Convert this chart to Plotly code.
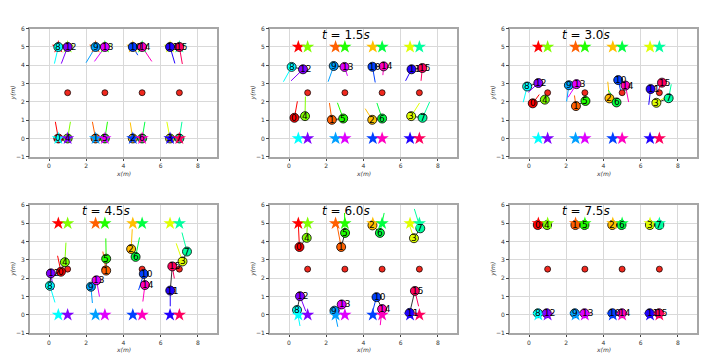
import colorsys
import plotly.graph_objects as go

# ---------------- data ----------------
TIME_LABELS = ["", "1.5", "3.0", "4.5", "6.0", "7.5"]
ROBOT_IDS = list(range(16))
OBST_X = [1.0, 3.0, 5.0, 7.0]
OBST_Y = [2.5, 2.5, 2.5, 2.5]
GOAL_X = [0.5, 2.5, 4.5, 6.5, 1.0, 3.0, 5.0, 7.0, 0.5, 2.5, 4.5, 6.5, 1.0, 3.0, 5.0, 7.0]
GOAL_Y = [5, 5, 5, 5, 5, 5, 5, 5, 0, 0, 0, 0, 0, 0, 0, 0]
PAIR_A = [0, 1, 2, 3, 8, 9, 10, 11]
PAIR_B = [4, 5, 6, 7, 12, 13, 14, 15]

# robot positions per panel (index = robot id)
x_t00 = [0.5, 2.5, 4.5, 6.5, 1.0, 3.0, 5.0, 7.0, 0.5, 2.5, 4.5, 6.5, 1.0, 3.0, 5.0, 7.0]
y_t00 = [0, 0, 0, 0, 0, 0, 0, 0, 5, 5, 5, 5, 5, 5, 5, 5]
ex_t00 = [0.34, 2.33, 4.36, 6.33, 1.15, 3.14, 5.15, 7.14, 0.29, 1.99, 4.77, 6.76, 0.66, 2.44, 5.52, 7.16]
ey_t00 = [0.91, 0.91, 0.88, 0.91, 0.91, 0.91, 0.91, 0.91, 4.09, 4.14, 4.55, 4.10, 4.09, 4.21, 4.21, 4.07]

x_t15 = [0.29, 2.30, 4.47, 6.56, 0.86, 2.91, 5.00, 7.17, 0.14, 2.40, 4.48, 6.58, 0.75, 2.98, 5.08, 7.16]
y_t15 = [1.13, 1.02, 1.02, 1.22, 1.22, 1.09, 1.09, 1.13, 3.91, 3.96, 3.92, 3.78, 3.78, 3.91, 3.94, 3.85]
ex_t15 = [0.45, 2.17, 4.09, 7.01, 0.88, 2.60, 4.72, 7.55, -0.30, 2.10, 4.63, 6.26, 0.11, 3.14, 5.04, 7.09]
ey_t15 = [2.03, 1.94, 1.63, 1.94, 2.29, 1.95, 1.94, 1.99, 3.10, 3.10, 3.06, 3.15, 3.15, 3.42, 3.46, 3.15]

x_t30 = [0.20, 2.52, 4.32, 6.84, 0.85, 3.03, 4.70, 7.50, -0.10, 2.14, 4.79, 6.53, 0.50, 2.55, 5.18, 7.14]
y_t30 = [1.92, 1.77, 2.19, 1.95, 2.12, 2.05, 1.97, 2.20, 2.84, 2.91, 3.19, 2.70, 3.03, 2.97, 2.89, 3.05]
ex_t30 = [0.55, 2.44, 4.23, 7.46, 0.94, 3.01, 4.25, 7.64, -0.31, 2.02, 4.93, 6.43, -0.04, 2.10, 5.35, 6.95]
ey_t30 = [2.40, 2.35, 3.10, 2.34, 2.50, 2.53, 2.65, 2.96, 1.98, 2.02, 2.56, 1.84, 2.52, 2.25, 1.99, 2.65]

x_t45 = [0.64, 3.07, 4.41, 7.17, 0.85, 3.07, 4.65, 7.41, 0.05, 2.25, 5.09, 6.51, 0.10, 2.55, 5.15, 6.62]
y_t45 = [2.36, 2.42, 3.60, 2.92, 2.88, 3.07, 3.17, 3.46, 1.59, 1.54, 2.24, 1.33, 2.27, 1.89, 1.63, 2.65]
ex_t45 = [0.46, 2.89, 4.47, 6.83, 0.91, 3.05, 4.86, 7.14, 0.32, 2.33, 4.81, 6.51, 0.23, 2.71, 5.04, 6.73]
ey_t45 = [3.23, 3.46, 4.68, 3.91, 3.95, 4.18, 4.23, 4.50, 0.68, 0.65, 1.36, 0.47, 1.36, 1.00, 0.73, 1.99]

x_t60 = [0.56, 2.80, 4.48, 6.71, 0.95, 3.01, 4.88, 7.05, 0.43, 2.44, 4.70, 6.48, 0.59, 2.83, 5.00, 6.76]
y_t60 = [3.71, 3.71, 4.89, 4.19, 4.21, 4.48, 4.48, 4.73, 0.27, 0.23, 0.97, 0.11, 1.02, 0.57, 0.32, 1.31]
ex_t60 = [0.50, 2.57, 4.50, 6.39, 1.00, 2.98, 5.11, 6.73, 0.59, 2.62, 4.47, 6.52, 0.90, 2.57, 4.90, 6.96]
ey_t60 = [4.95, 4.95, 5.00, 5.13, 5.30, 5.57, 5.57, 5.79, -0.61, -0.65, 0.11, 0.20, 0.20, -0.16, -0.56, 0.47]

x_t75 = [0.47, 2.49, 4.47, 6.49, 0.97, 2.98, 4.97, 7.00, 0.48, 2.46, 4.48, 6.48, 0.95, 2.98, 4.99, 6.98]
y_t75 = [4.91, 4.91, 4.91, 4.91, 4.91, 4.91, 4.91, 4.91, 0.09, 0.09, 0.09, 0.09, 0.09, 0.09, 0.09, 0.09]
ex_t75 = [0.49, 2.50, 4.49, 6.50, 0.99, 3.00, 4.99, 7.00, 0.49, 2.48, 4.49, 6.49, 0.97, 2.99, 5.00, 6.99]
ey_t75 = [5.12, 5.12, 5.12, 5.12, 5.12, 5.12, 5.12, 5.12, -0.08, -0.08, -0.08, -0.08, -0.08, -0.08, -0.08, -0.08]

PANELS = [
    (x_t00, y_t00, ex_t00, ey_t00),
    (x_t15, y_t15, ex_t15, ey_t15),
    (x_t30, y_t30, ex_t30, ey_t30),
    (x_t45, y_t45, ex_t45, ey_t45),
    (x_t60, y_t60, ex_t60, ey_t60),
    (x_t75, y_t75, ex_t75, ey_t75),
]

# ---------------- style ----------------
OFF = 8  # default page body margin
W, H = 720 - OFF, 360 - OFF
FONT = "DejaVu Sans"


def robot_color(i):
    r, g, b = colorsys.hsv_to_rgb(i / 16.0, 1.0, 1.0)
    return "rgb(%d,%d,%d)" % (round(r * 255), round(g * 255), round(b * 255))


COLORS = [robot_color(i) for i in ROBOT_IDS]

fig = go.Figure()
annotations = []
layout_axes = {}

for k, (xs, ys, exs, eys) in enumerate(PANELS):
    row, col = divmod(k, 3)
    left = 30.4 + 240 * col - OFF
    right = 216.6 + 240 * col - OFF
    top = 25 + 180 * row - OFF
    bottom = 155.7 + 180 * row - OFF
    sfx = "" if k == 0 else str(k + 1)
    xa, ya = "x" + sfx, "y" + sfx

    common = dict(
        showgrid=True, gridcolor="#d9d9d9", gridwidth=1.2,
        zeroline=False, showline=True, linecolor="#a6a6a6", linewidth=1.5,
        mirror=True, ticks="outside", ticklen=2.5, tickwidth=0.8, tickcolor="#444",
        tickfont=dict(family=FONT, size=6, color="#333"),
    )
    layout_axes["xaxis" + sfx] = dict(
        common, domain=[left / W, right / W], range=[-1, 9],
        tickvals=[0, 2, 4, 6, 8], anchor=ya,
    )
    layout_axes["yaxis" + sfx] = dict(
        common, domain=[1 - bottom / H, 1 - top / H], range=[-1, 6],
        tickvals=[-1, 0, 1, 2, 3, 4, 5, 6], anchor=xa,
    )

    # pair connection lines
    for a, b in zip(PAIR_A, PAIR_B):
        fig.add_trace(go.Scatter(
            x=[xs[a], xs[b]], y=[ys[a], ys[b]], mode="lines",
            line=dict(color="black", width=0.8), xaxis=xa, yaxis=ya,
            showlegend=False, hoverinfo="skip"))
    # velocity lines
    for i in ROBOT_IDS:
        fig.add_trace(go.Scatter(
            x=[xs[i], exs[i]], y=[ys[i], eys[i]], mode="lines",
            line=dict(color=COLORS[i], width=1.0), xaxis=xa, yaxis=ya,
            showlegend=False, hoverinfo="skip"))
    # obstacles
    fig.add_trace(go.Scatter(
        x=OBST_X, y=OBST_Y, mode="markers",
        marker=dict(size=6, color="rgb(240,40,30)", line=dict(color="black", width=0.7)),
        xaxis=xa, yaxis=ya, showlegend=False, hoverinfo="skip"))
    # robots and goals, in two groups
    for grp in (ROBOT_IDS[:8], ROBOT_IDS[8:]):
        fig.add_trace(go.Scatter(
            x=[xs[i] for i in grp], y=[ys[i] for i in grp], mode="markers",
            marker=dict(size=9, color=[COLORS[i] for i in grp],
                        line=dict(color="black", width=0.8)),
            xaxis=xa, yaxis=ya, showlegend=False, hoverinfo="skip"))
        fig.add_trace(go.Scatter(
            x=[GOAL_X[i] for i in grp], y=[GOAL_Y[i] for i in grp], mode="markers",
            marker=dict(size=10, symbol="star", color=[COLORS[i] for i in grp],
                        line=dict(width=0)),
            xaxis=xa, yaxis=ya, showlegend=False, hoverinfo="skip"))
    # labels
    for i in ROBOT_IDS:
        annotations.append(dict(
            x=xs[i], y=ys[i], xref=xa, yref=ya, text=str(i), showarrow=False,
            xanchor="left", yanchor="middle", xshift=-4, borderpad=0,
            font=dict(family=FONT, size=9, color="black")))
    # title
    if TIME_LABELS[k]:
        annotations.append(dict(
            x=3.05, y=5.66, xref=xa, yref=ya,
            text="<i>t</i> = %s<i>s</i>" % TIME_LABELS[k], showarrow=False,
            xanchor="center", yanchor="middle",
            font=dict(family=FONT, size=12, color="black")))
    # axis titles
    annotations.append(dict(
        x=0.5, y=-0.13, xref=xa + " domain", yref=ya + " domain", text="<i>x(m)</i>",
        showarrow=False, xanchor="center", yanchor="middle", borderpad=0,
        font=dict(family=FONT, size=6, color="#333")))
    annotations.append(dict(
        x=-0.095, y=0.5, xref=xa + " domain", yref=ya + " domain", text="<i>y(m)</i>",
        showarrow=False, xanchor="center", yanchor="middle", textangle=-90,
        font=dict(family=FONT, size=6, color="#333")))

fig.update_layout(
    width=W, height=H, margin=dict(l=0, r=0, t=0, b=0),
    paper_bgcolor="white", plot_bgcolor="white",
    annotations=annotations, showlegend=False,
    font=dict(family=FONT),
    **layout_axes,
)

fig.write_html("out.html")
